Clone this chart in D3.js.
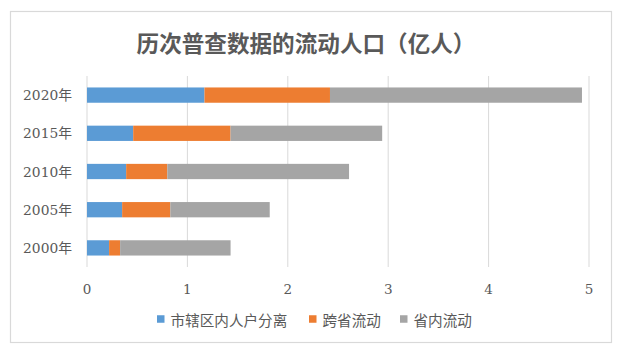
<!DOCTYPE html>
<html><head><meta charset="utf-8">
<script src="https://cdn.jsdelivr.net/npm/d3@7"></script>
<style>html,body{margin:0;padding:0;background:#fff;}svg{display:block;}</style>
</head><body>
<script>
const years = ["2020年","2015年","2010年","2005年","2000年"];
const seriesNames = ["市辖区内人户分离","跨省流动","省内流动"];
const intraCity = [1.17, 0.46, 0.39, 0.35, 0.22];
const crossProv = [1.25, 0.97, 0.41, 0.48, 0.11];
const withinProv = [2.51, 1.51, 1.81, 0.99, 1.10];
const xTicks = [0,1,2,3,4,5];
const colors = ["#5B9BD5","#ED7D31","#A5A5A5"];
const title = "历次普查数据的流动人口（亿人）";

const W = 620, H = 357;
const svg = d3.select("body").append("svg").attr("width", W).attr("height", H);
svg.append("rect").attr("x",10.5).attr("y",11.5).attr("width",601).attr("height",331)
  .attr("fill","#fff").attr("stroke","#d9d9d9").attr("stroke-width",1.2);

svg.append("text").attr("x",306).attr("y",42).attr("text-anchor","middle")
  .attr("dominant-baseline","central").attr("font-family","'Noto Sans CJK SC'")
  .attr("font-size",22.6).attr("font-weight",700).attr("fill","#595959").text(title);

const x = d3.scaleLinear().domain([0,5]).range([87,589]);
const y = d3.scaleBand().domain(years).range([76,267]).paddingInner(0.6).paddingOuter(0.3);

svg.append("g").selectAll("line").data(xTicks).join("line")
  .attr("x1",d=>x(d)).attr("x2",d=>x(d)).attr("y1",76).attr("y2",267)
  .attr("stroke","#d9d9d9").attr("stroke-width",1);

const rows = years.map((yr,i)=>({year:yr, v:[intraCity[i],crossProv[i],withinProv[i]]}));
const stacked = [];
rows.forEach(r=>{let c=0; r.v.forEach((v,j)=>{stacked.push({year:r.year,s:j,x0:c,x1:c+v}); c+=v;});});
svg.append("g").selectAll("rect").data(stacked).join("rect")
  .attr("x",d=>x(d.x0)).attr("width",d=>x(d.x1)-x(d.x0))
  .attr("y",d=>y(d.year)).attr("height",y.bandwidth())
  .attr("fill",d=>colors[d.s]);

svg.append("g").selectAll("text").data(years).join("text")
  .attr("x",72).attr("y",d=>y(d)+y.bandwidth()/2).attr("text-anchor","end")
  .attr("dominant-baseline","central").attr("font-family","'DejaVu Serif','Noto Sans CJK SC'")
  .attr("font-size",13.8).attr("fill","#595959").text(d=>d);

svg.append("g").selectAll("text").data(xTicks).join("text")
  .attr("x",d=>x(d)).attr("y",289).attr("text-anchor","middle")
  .attr("dominant-baseline","central").attr("font-family","'DejaVu Serif'")
  .attr("font-size",13.5).attr("fill","#595959").text(d=>d);

const legX = [157,309,400];
const lg = svg.append("g").selectAll("g").data(seriesNames).join("g")
  .attr("transform",(d,i)=>`translate(${legX[i]},319)`);
lg.append("rect").attr("x",0).attr("y",-3.75).attr("width",7.5).attr("height",7.5).attr("fill",(d,i)=>colors[i]);
lg.append("text").attr("x",13.5).attr("y",0).attr("dominant-baseline","central")
  .attr("font-family","'Noto Sans CJK SC'").attr("font-size",14.6).attr("fill","#595959").text(d=>d);
</script>
</body></html>
